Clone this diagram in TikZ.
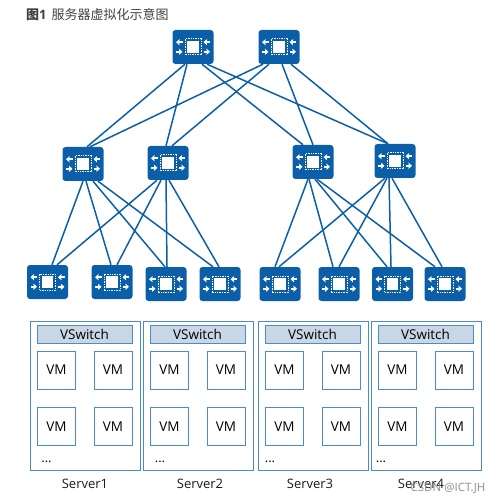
\documentclass[tikz,border=0pt]{standalone}
\usepackage{fontspec}
\setmainfont{Open Sans}
\newfontfamily\cjkfont{Noto Sans CJK SC}
\usetikzlibrary{arrows.meta,calc}

\definecolor{swblue}{HTML}{0A5FA8}
\definecolor{boxblue}{HTML}{4A8CC4}
\definecolor{vsfill}{HTML}{C9D6E6}

\begin{document}
\begin{tikzpicture}[
  x=1pt, y=-1pt,
  swbox/.style={rounded corners=3pt, fill=swblue, minimum width=41pt, minimum height=34pt, inner sep=0pt,
    path picture={
      \begin{scope}[shift={(path picture bounding box.center)}, x=1pt, y=1pt, sharp corners]
        \fill[white] (-5.8,-5.8) rectangle (5.8,5.8);
        \draw[white, line width=1pt, dash pattern=on 1.4pt off 1pt] (-8,-8) rectangle (8,8);
        \draw[swarrow] (-10.5,4.8) -- (-17,4.8);
        \draw[swarrow] (17,4.8) -- (10.5,4.8);
        \draw[swarrow] (-17,-4.8) -- (-10.5,-4.8);
        \draw[swarrow] (10.5,-4.8) -- (17,-4.8);
      \end{scope}
    }},
  swarrow/.style={white, line width=1.7pt, -{Stealth[length=3.6pt, width=6.2pt, inset=0.6pt]}},
  link/.style={draw=swblue, line width=1.5pt},
  server/.style={draw=boxblue, line width=1pt, minimum width=110pt, minimum height=149pt, inner sep=0pt},
  vswitch/.style={draw=boxblue, line width=1pt, fill=vsfill, minimum width=95pt, minimum height=18pt, inner sep=0pt, font=\fontsize{13.5}{15}\selectfont},
  vm/.style={draw=boxblue, line width=1pt, minimum width=38pt, minimum height=38pt, inner sep=0pt, font=\fontsize{13.5}{15}\selectfont},
  caption/.style={font=\fontsize{13}{15}\selectfont, text=black!90},
]
\useasboundingbox (0,0) rectangle (501,502);

% --- Title ---
\node[anchor=west, inner sep=0pt, font=\fontsize{13}{15}\selectfont, text=black!75] (title) at (26,15)
  {{\cjkfont\bfseries 图}{\bfseries 1}\hspace{5pt}{\cjkfont 服务器虚拟化示意图}};

% --- Servers ---
\foreach \n/\xa/\xd/\xn in {1/30/16.5/55, 2/143/17/57, 3/258/12/52, 4/371/10/50} {
  \node[server] (srv\n) at (\xa+55,395.5) {};
  \node[vswitch] (vs\n) at (\xa+54.5,334) {VSwitch};
  \node[vm] (vm\n a) at (\xa+26.5,370) {VM};
  \node[vm] (vm\n b) at (\xa+83,370) {VM};
  \node[vm] (vm\n c) at (\xa+26.5,426.5) {VM};
  \node[vm] (vm\n d) at (\xa+83,426.5) {VM};
  \node[anchor=base, inner sep=0pt, font=\fontsize{13}{15}\selectfont] (dots\n) at (\xa+\xd,462) {...};
  \node[caption] (name\n) at (\xa+\xn,484) {Server\n};
}

% --- Switches ---
\foreach \s/\xa/\ya in {c1/193/47, c2/279/47,
    m1/83/164, m2/168/163, m3/313/162, m4/395/161,
    l1/47.5/282, l2/112/282, l3/166/284, l4/220/284,
    l5/280/284, l6/339/284, l7/392.5/284, l8/445/284} {
  \node[swbox] (\s) at (\xa,\ya) {};
}

% --- Core to middle ---
\foreach \a/\sa/\b/\sb in {c1/-8/m1/4, c1/-6/m2/-2, c1/9/m3/-10, c1/14/m4/-7,
    c2/-16/m1/7, c2/-10/m2/4, c2/3/m3/0, c2/12/m4/-7} {
  \draw[link] ([xshift=\sa pt]\a.south) -- ([xshift=\sb pt]\b.north);
}

% --- Middle to leaf ---
\foreach \a/\sa/\b/\sb in {m1/0/l1/4.5, m1/3/l2/-1, m1/10/l3/-1, m1/15/l4/-7,
    m2/-11/l1/9.5, m2/-7/l2/5, m2/-2/l3/1, m2/1/l4/-1,
    m3/-5/l5/-5, m3/-4/l6/-6, m3/2/l7/-5.5, m3/4/l8/-10,
    m4/-10/l5/-1, m4/-8/l6/0, m4/-6/l7/-1.5, m4/-3/l8/-3} {
  \draw[link] ([xshift=\sa pt]\a.south) -- ([xshift=\sb pt]\b.north);
}

% --- Watermark ---
\node[font=\fontsize{11.5}{13}\selectfont, text=black!45, inner sep=0pt] (mark) at (448,488) {CSDN @ICT.JH};
\end{tikzpicture}
\end{document}
